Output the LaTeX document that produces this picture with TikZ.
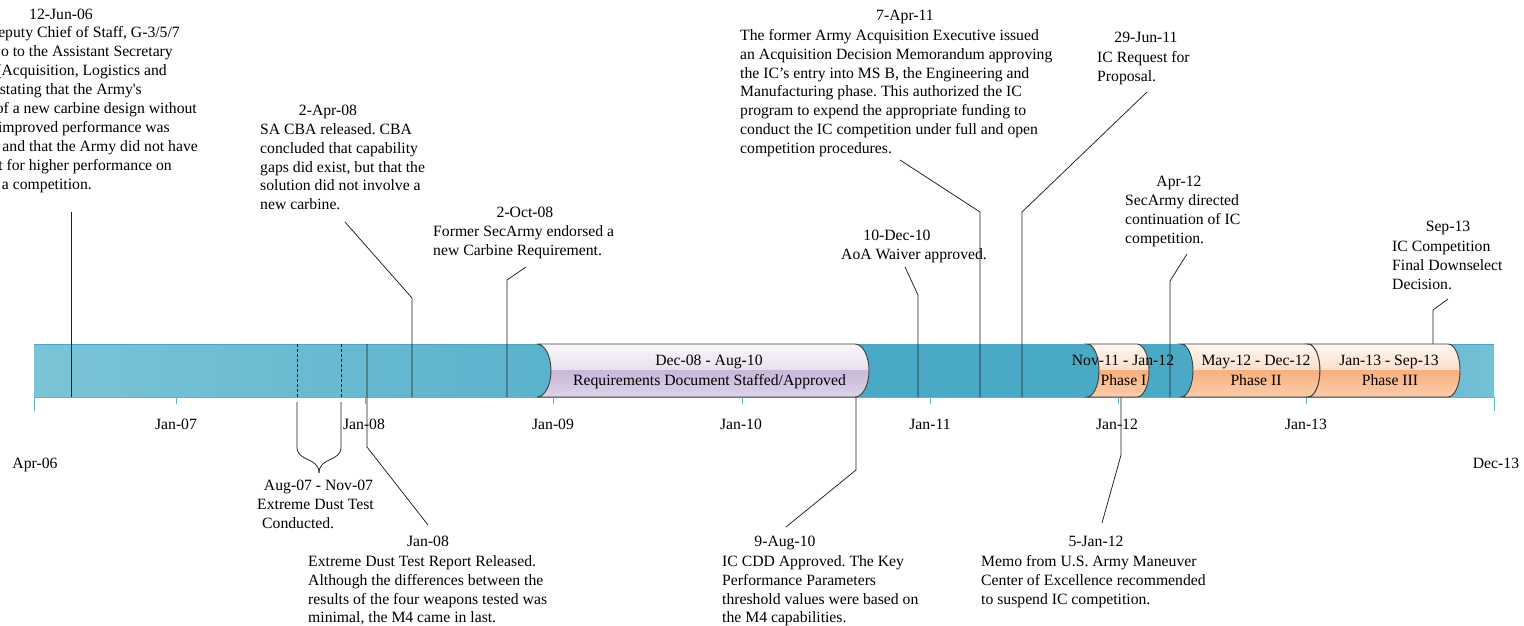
\documentclass[tikz,border=0pt]{standalone}
\usepackage{fontspec}
\setmainfont{Liberation Serif}
\definecolor{tealL}{RGB}{122,196,215}
\definecolor{tealM}{RGB}{74,169,197}
\definecolor{tealR}{RGB}{116,193,213}
\definecolor{tealE}{RGB}{78,165,192}
\definecolor{tickc}{RGB}{95,180,205}
\definecolor{edgec}{RGB}{64,64,64}
\definecolor{lavT}{RGB}{250,248,252}
\definecolor{lavM}{RGB}{230,224,238}
\definecolor{lavL}{RGB}{200,185,217}
\definecolor{lavB}{RGB}{222,212,233}
\definecolor{peaT}{RGB}{255,247,241}
\definecolor{peaM}{RGB}{252,222,202}
\definecolor{peaL}{RGB}{248,176,128}
\definecolor{peaB}{RGB}{251,206,172}
\definecolor{linec}{RGB}{30,30,30}
\pgfdeclarehorizontalshading{barshade}{100bp}{color(0bp)=(tealL); color(25bp)=(tealL); color(52bp)=(tealM); color(66bp)=(tealM); color(75bp)=(tealR); color(100bp)=(tealR)}
\newcommand\fsz{\fontsize{15.7}{18.9}\selectfont\frenchspacing}
% cylinder-like bar segment: #1 left x, #2 right x, #3 bulge, #4-#7 colours, #8 centre name
\newcommand\cylbox[8]{%
  \begin{scope}
    \clip (#1,344) -- (#2,344)
      .. controls ({#2+0.552*#3},344) and ({#2+#3},355.87) .. ({#2+#3},370.5)
      .. controls ({#2+#3},385.13) and ({#2+0.552*#3},397) .. (#2,397)
      -- (#1,397)
      .. controls ({#1+0.552*#3},397) and ({#1+#3},385.13) .. ({#1+#3},370.5)
      .. controls ({#1+#3},355.87) and ({#1+0.552*#3},344) .. (#1,344) -- cycle;
    \fill[top color=#4,bottom color=#5] ({#1-2},343) rectangle ({#2+#3+2},370.5);
    \fill[top color=#6,bottom color=#7] ({#1-2},370.5) rectangle ({#2+#3+2},398);
  \end{scope}
  \draw[boxedge] (#1,344) -- (#2,344)
      .. controls ({#2+0.552*#3},344) and ({#2+#3},355.87) .. ({#2+#3},370.5)
      .. controls ({#2+#3},385.13) and ({#2+0.552*#3},397) .. (#2,397)
      -- (#1,397)
      .. controls ({#1+0.552*#3},397) and ({#1+#3},385.13) .. ({#1+#3},370.5)
      .. controls ({#1+#3},355.87) and ({#1+0.552*#3},344) .. (#1,344) -- cycle;
  \coordinate (#8) at ({(#1+#2)/2},370.5);
}
\begin{document}
\begin{tikzpicture}[x=1pt,y=-1pt,
  txt/.style={font=\fsz, inner sep=0pt, text=black},
  datelbl/.style={txt, anchor=base},
  rline/.style={txt, anchor=base east},
  bodyblk/.style={txt, align=left, anchor=north west},
  conn/.style={draw=linec, line width=0.75pt},
  dashconn/.style={draw=linec, line width=0.75pt, dash pattern=on 3pt off 2pt},
  tickmark/.style={draw=tickc, line width=0.9pt},
  boxedge/.style={draw=edgec, line width=0.9pt}]
\useasboundingbox (0,0) rectangle (1524,626);
\fill[white] (0,0) rectangle (1524,626);

% main bar
\shade[shading=barshade] (34,344) rectangle (1494,397);
\draw[draw=tealE, line width=0.5pt] (34,344) -- (1494,344);
\coordinate (barL) at (34,397);
\coordinate (barR) at (1494,397);
\draw[tickmark] (barL) -- (barR);

% ticks
\coordinate (t0a) at (34,397);   \coordinate (t0b) at (34,411);
\coordinate (t9a) at (1494,397); \coordinate (t9b) at (1494,411);
\draw[tickmark] (t0a) -- (t0b);
\draw[tickmark] (t9a) -- (t9b);
\foreach \x/\n in {176/1,365/2,553/3,742/4,930/5,1118/6,1306/7}{
  \coordinate (ta\n) at (\x,397); \coordinate (tb\n) at (\x,404);
  \draw[tickmark] (ta\n) -- (tb\n);
}
\node[datelbl] (lj07) at (176,429) {Jan-07};
\node[datelbl] (lj08) at (364,429) {Jan-08};
\node[datelbl] (lj09) at (553,429) {Jan-09};
\node[datelbl] (lj10) at (741,429) {Jan-10};
\node[datelbl] (lj11) at (930,429) {Jan-11};
\node[datelbl] (lj12) at (1117,429) {Jan-12};
\node[datelbl] (lj13) at (1306,429) {Jan-13};
\node[datelbl] (la06) at (35,468) {Apr-06};
\node[datelbl] (ld13) at (1496,468) {Dec-13};

% dashed lines and brace (Aug-07 - Nov-07)
\coordinate (da1) at (297,344); \coordinate (da2) at (297,397);
\coordinate (db1) at (341,344); \coordinate (db2) at (341,397);
\draw[dashconn] (da1) -- (da2);
\draw[dashconn] (db1) -- (db2);
\coordinate (br1) at (297,402); \coordinate (br2) at (341,402);
\coordinate (brtip) at (319,473);
\draw[conn] (br1) -- (297,447) .. controls (297,462) and (319,457) .. (brtip);
\draw[conn] (br2) -- (341,447) .. controls (341,462) and (319,457) .. (brtip);

% upper connectors
\coordinate (e1a) at (71,212);   \coordinate (e1b) at (71,397);
\draw[conn] (e1a) -- (e1b);
\coordinate (e2a) at (345,222);  \coordinate (e2k) at (412,298); \coordinate (e2b) at (412,397);
\draw[conn] (e2a) -- (e2k) -- (e2b);
\coordinate (e3a) at (526,267);  \coordinate (e3k) at (507,280); \coordinate (e3b) at (507,397);
\draw[conn] (e3a) -- (e3k) -- (e3b);
\coordinate (e4a) at (905,267);  \coordinate (e4k) at (918,295); \coordinate (e4b) at (918,397);
\draw[conn] (e4a) -- (e4k) -- (e4b);
\coordinate (e5a) at (900,160);  \coordinate (e5k) at (980,212); \coordinate (e5b) at (980,397);
\draw[conn] (e5a) -- (e5k) -- (e5b);
\coordinate (e6a) at (1147,92);  \coordinate (e6k) at (1022,212); \coordinate (e6b) at (1022,397);
\draw[conn] (e6a) -- (e6k) -- (e6b);
\coordinate (e7a) at (1187,254); \coordinate (e7k) at (1170,281); \coordinate (e7b) at (1170,397);
\draw[conn] (e7a) -- (e7k) -- (e7b);
\coordinate (e8a) at (1448,299); \coordinate (e8k) at (1433,310); \coordinate (e8b) at (1433,344);
\draw[conn] (e8a) -- (e8k) -- (e8b);

% lower connectors
\coordinate (f1a) at (367,344);  \coordinate (f1k) at (367,447); \coordinate (f1b) at (428,525);
\draw[conn] (f1a) -- (f1k) -- (f1b);
\coordinate (f2a) at (856,397);  \coordinate (f2k) at (856,470); \coordinate (f2b) at (786,527);
\draw[conn] (f2a) -- (f2k) -- (f2b);
\coordinate (f3a) at (1121,397); \coordinate (f3k) at (1121,455); \coordinate (f3b) at (1102,523);
\draw[conn] (f3a) -- (f3k) -- (f3b);

% bar segments
\cylbox{537}{855}{14}{lavT}{lavM}{lavL}{lavB}{reqc}
\cylbox{1087}{1137}{12}{peaT}{peaM}{peaL}{peaB}{p1c}
\cylbox{1181}{1308}{12}{peaT}{peaM}{peaL}{peaB}{p2c}
\cylbox{1308}{1448}{12}{peaT}{peaM}{peaL}{peaB}{p3c}
\node[datelbl] (rq1) at (709,365) {Dec-08 - Aug-10};
\node[datelbl] (rq2) at (709.5,385) {Requirements Document Staffed/Approved};
\node[datelbl] (ph1a) at (1123,365) {Nov-11 - Jan-12};
\node[datelbl] (ph1b) at (1123.5,385) {Phase I};
\node[datelbl] (ph2a) at (1256,365) {May-12 - Dec-12};
\node[datelbl] (ph2b) at (1256,385) {Phase II};
\node[datelbl] (ph3a) at (1389,365) {Jan-13 - Sep-13};
\node[datelbl] (ph3b) at (1390,385) {Phase III};

% top-left (clipped) label
\node[datelbl] (d1) at (61,20) {12-Jun-06};
\node[rline] (b1a) at (180,38) {eputy Chief of Staff, G-3/5/7};
\node[rline] (b1b) at (173,56.9) {o to the Assistant Secretary};
\node[rline] (b1c) at (167,75.8) {(Acquisition, Logistics and};
\node[rline] (b1d) at (142,94.7) {stating that the Army\textquotesingle s};
\node[rline] (b1e) at (197,113.6) {of a new carbine design without};
\node[rline] (b1f) at (170,132.5) {improved performance was};
\node[rline] (b1g) at (198,151.4) {and that the Army did not have};
\node[rline] (b1h) at (172,170.3) {t for higher performance on};
\node[rline] (b1i) at (92,189.2) {a competition.};

% upper labels
\node[datelbl] (d2) at (328,115) {2-Apr-08};
\node[bodyblk] (b2) at (260,122) {\rule{0pt}{12pt}SA CBA released. CBA\\concluded that capability\\gaps did exist, but that the\\solution did not involve a\\new carbine.};
\node[datelbl] (d3) at (525,217) {2-Oct-08};
\node[bodyblk] (b3) at (433,224) {\rule{0pt}{12pt}Former SecArmy endorsed a\\new Carbine Requirement.};
\node[datelbl] (d4) at (897,240) {10-Dec-10};
\node[bodyblk] (b4) at (841,247) {\rule{0pt}{12pt}AoA Waiver approved.};
\node[datelbl] (d5) at (905,21) {7-Apr-11};
\node[bodyblk] (b5) at (740,28) {\rule{0pt}{12pt}The former Army Acquisition Executive issued\\an Acquisition Decision Memorandum approving\\the IC’s entry into MS B, the Engineering and\\Manufacturing phase. This authorized the IC\\program to expend the appropriate funding to\\conduct the IC competition under full and open\\competition procedures.};
\node[datelbl] (d6) at (1146,43) {29-Jun-11};
\node[bodyblk] (b6) at (1097,50) {\rule{0pt}{12pt}IC Request for\\Proposal.};
\node[datelbl] (d7) at (1179,186) {Apr-12};
\node[bodyblk] (b7) at (1125,193) {\rule{0pt}{12pt}SecArmy directed\\continuation of IC\\competition.};
\node[datelbl] (d8) at (1448,231) {Sep-13};
\node[bodyblk] (b8) at (1392,239) {\rule{0pt}{12pt}IC Competition\\Final Downselect\\Decision.};

% lower labels
\node[datelbl] (d9) at (318.5,490) {Aug-07 - Nov-07};
\node[bodyblk] (b9) at (257,497) {\rule{0pt}{12pt}Extreme Dust Test\\\hspace*{5pt}Conducted.};
\node[datelbl] (d10) at (428,546) {Jan-08};
\node[bodyblk] (b10) at (308,554) {\rule{0pt}{12pt}Extreme Dust Test Report Released.\\Although the differences between the\\results of the four weapons tested was\\minimal, the M4 came in last.};
\node[datelbl] (d11) at (785,546) {9-Aug-10};
\node[bodyblk] (b11) at (722,554) {\rule{0pt}{12pt}IC CDD Approved. The Key\\Performance Parameters\\threshold values were based on\\the M4 capabilities.};
\node[datelbl] (d12) at (1096,546) {5-Jan-12};
\node[bodyblk] (b12) at (981,554) {\rule{0pt}{12pt}Memo from U.S. Army Maneuver\\Center of Excellence recommended\\to suspend IC competition.};
\end{tikzpicture}
\end{document}
